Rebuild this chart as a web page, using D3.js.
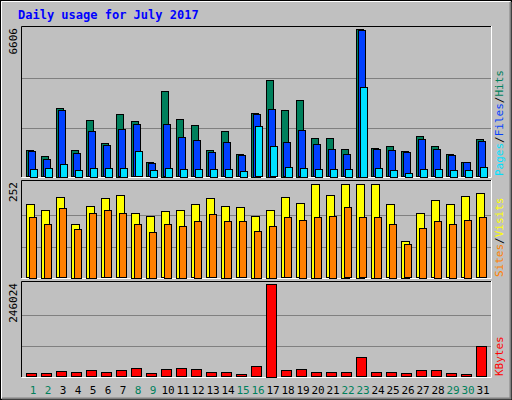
<!DOCTYPE html>
<html><head><meta charset="utf-8">
<script src="https://cdn.jsdelivr.net/npm/d3@7"></script>
<style>body{margin:0;background:#fff}svg{display:block}</style>
</head><body><div id="chart"></div>
<script>
const days = d3.range(1, 32);
const weekend = [1, 2, 8, 9, 15, 16, 22, 23, 29, 30];
const hits = [1183, 914, 3069, 1183, 2530, 1497, 2800, 2485, 644, 3833, 2575, 2306, 1183, 2036, 1003, 2845,
  4328, 2980, 3429, 1722, 1722, 1228, 6606, 1273, 1363, 1138, 1812, 1363, 1003, 644, 1677];
const files = [1138, 778, 2979, 1048, 2036, 1407, 2126, 2350, 599, 2350, 1767, 1633, 1093, 1542, 958, 2800,
  3026, 1542, 2081, 1453, 1228, 1003, 6576, 1228, 1183, 1093, 1677, 1228, 958, 644, 1587];
const pages = [344, 389, 569, 299, 389, 389, 389, 1138, 299, 389, 344, 344, 344, 344, 254, 2261,
  1363, 434, 389, 344, 344, 344, 4013, 389, 299, 164, 344, 344, 299, 299, 434];
const visits = [197, 183, 216, 145, 194, 214, 222, 175, 167, 178, 183, 197, 214, 194, 189, 167,
  183, 216, 200, 252, 222, 252, 252, 252, 197, 99, 173, 208, 197, 219, 227];
const sites = [164, 145, 186, 131, 175, 181, 173, 145, 123, 145, 140, 153, 170, 153, 151, 126,
  140, 162, 156, 164, 167, 189, 162, 164, 145, 90, 134, 153, 145, 156, 162];
const kbytes = [8111, 8111, 13518, 10814, 16222, 10814, 16222, 21629, 8111, 18925, 21629, 18925, 10814, 10814, 5407, 27036,
  246024, 16222, 18925, 10814, 10814, 10814, 51368, 10814, 10814, 8111, 16222, 16222, 8111, 5407, 81108];

const W = 512, H = 400;
const svg = d3.select('#chart').append('svg').attr('width', W).attr('height', H)
  .style('font-family', '"DejaVu Sans Mono", monospace');

svg.append('rect').attr('width', W).attr('height', H).attr('fill', '#c0c0c0');
// outer bevel
svg.append('rect').attr('x', 0.5).attr('y', 0.5).attr('width', W - 1).attr('height', H - 1)
  .attr('fill', 'none').attr('stroke', '#000');
svg.append('path').attr('d', `M1.5,${H - 2}V1.5H${W - 2}`).attr('stroke', '#fff').attr('fill', 'none');
svg.append('path').attr('d', `M2,${H - 1.5}H${W - 1.5}V2`).attr('stroke', '#808080').attr('fill', 'none').attr('stroke-width', 2);

svg.append('text').attr('x', 18).attr('y', 19).text('Daily usage for July 2017')
  .attr('fill', '#0000ff').attr('font-weight', 'bold').attr('font-size', 12);

const x = d3.scaleBand().domain(days).range([25.5, 490.5]).padding(0);

const panels = [
  { top: 26, bottom: 177, max: 6606, plotTop: 29 },
  { top: 180, bottom: 278, max: 252, plotTop: 184 },
  { top: 281, bottom: 377, max: 246024, plotTop: 284 }
];

function panelFrame(p) {
  svg.append('path').attr('d', `M21.5,${p.bottom}V${p.top + 0.5}H491`).attr('stroke', '#000').attr('fill', 'none');
  svg.append('path').attr('d', `M21.5,${p.bottom + 0.5}H491.5V${p.top}`).attr('stroke', '#fff').attr('fill', 'none');
  const y = d3.scaleLinear().domain([0, p.max]).range([p.bottom - 0.5, p.plotTop]);
  [1 / 3, 2 / 3].forEach(f => {
    const gy = Math.round(p.bottom - (p.bottom - p.plotTop) * f) + 0.5;
    svg.append('line').attr('x1', 22).attr('x2', 491).attr('y1', gy).attr('y2', gy)
      .attr('stroke', '#808080').attr('stroke-width', 1);
  });
  svg.append('text').attr('transform', `translate(17,${p.top + 2}) rotate(-90)`)
    .attr('text-anchor', 'end').attr('font-size', 11).attr('fill', '#000').text(p.max);
  return y;
}

function bars(y, vals, dx, w, color) {
  svg.append('g').selectAll('rect').data(vals).enter().append('rect')
    .attr('x', (d, i) => Math.round(x(days[i]) + dx) + 0.5)
    .attr('y', d => Math.round(y(d)) + 0.5)
    .attr('width', w)
    .attr('height', d => Math.max(1, Math.round(y(0) - y(d))))
    .attr('fill', color).attr('stroke', '#000');
}

const y1 = panelFrame(panels[0]);
bars(y1, hits, 0, 7, '#00805c');
bars(y1, files, 2, 7, '#0040ff');
bars(y1, pages, 4, 7, '#00e0ff');

const y2 = panelFrame(panels[1]);
bars(y2, visits, 0, 8, '#ffff00');
bars(y2, sites, 3, 7, '#ff8000');

const y3 = panelFrame(panels[2]);
bars(y3, kbytes, 0, 10, '#ff0000');

// day labels
svg.append('g').selectAll('text').data(days).enter().append('text')
  .attr('x', d => x(d) + 7.5).attr('y', 394).attr('text-anchor', 'middle')
  .attr('font-size', 11)
  .attr('fill', d => weekend.includes(d) ? '#00805c' : '#000')
  .text(d => d);

// right side legends
function sideLabel(yBottom, parts) {
  const t = svg.append('text').attr('transform', `translate(503,${yBottom}) rotate(-90)`)
    .attr('font-size', 11);
  parts.forEach(p => t.append('tspan').attr('fill', p[1]).text(p[0]));
}
sideLabel(176, [['Pages', '#00e0ff'], ['/', '#000'], ['Files', '#0040ff'], ['/', '#000'], ['Hits', '#00805c']]);
sideLabel(277, [['Sites', '#ff8000'], ['/', '#000'], ['Visits', '#ffff00']]);
sideLabel(376, [['KBytes', '#ff0000']]);
</script>
</body></html>
